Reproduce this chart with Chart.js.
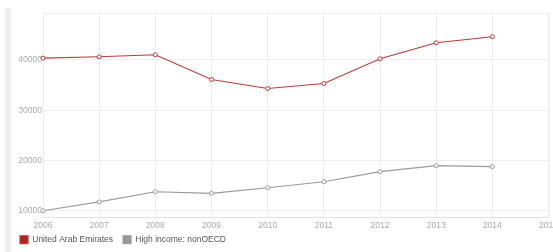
<!DOCTYPE html>
<html>
<head>
<meta charset="utf-8">
<script src="https://cdn.jsdelivr.net/npm/chart.js@4"></script>
<style>
  html, body { margin: 0; padding: 0; background: #fff; overflow: hidden; }
  body { width: 553px; height: 252px; position: relative; }
  #strip { position: absolute; left: 5px; top: 8px; width: 6px; height: 244px; background: #efefef; }
  #wrap { position: absolute; left: 0; top: 0; width: 562px; height: 252px; }
</style>
</head>
<body>
<div id="strip"></div>
<div id="wrap"><canvas id="chart"></canvas></div>
<script>
// Years on the x axis
const years = ['2006', '2007', '2008', '2009', '2010', '2011', '2012', '2013', '2014', '2015'];

// Series values
const uaeValues = [40350, 40600, 41000, 36100, 34300, 35300, 40200, 43400, 44600, null];
const nonOecdValues = [10050, 11800, 13800, 13500, 14600, 15800, 17800, 19000, 18800, null];

// Y tick values
const yTicks = [10000, 20000, 30000, 40000];

const tickFont = { family: 'Liberation Sans, Arial, sans-serif', size: 8.5 };

new Chart(document.getElementById('chart'), {
  type: 'line',
  data: {
    labels: years,
    datasets: [
      {
        label: 'United Arab Emirates',
        data: uaeValues,
        borderColor: '#c0393b',
        backgroundColor: '#b22222',
        pointBackgroundColor: '#ffffff',
        pointBorderColor: '#c0393b',
        pointRadius: 2,
        pointBorderWidth: 1,
        borderWidth: 1.1,
        tension: 0,
      },
      {
        label: 'High income: nonOECD',
        data: nonOecdValues,
        borderColor: '#9a9a9a',
        backgroundColor: '#999999',
        pointBackgroundColor: '#ffffff',
        pointBorderColor: '#9a9a9a',
        pointRadius: 2,
        pointBorderWidth: 1,
        borderWidth: 1.1,
        tension: 0,
      },
    ],
  },
  options: {
    responsive: true,
    maintainAspectRatio: false,
    animation: false,
    layout: { padding: { left: 10, top: 13, right: 0, bottom: 21 } },
    plugins: {
      legend: {
        display: true,
        position: 'bottom',
        align: 'start',
        labels: {
          boxWidth: 8,
          boxHeight: 8,
          padding: 10,
          color: '#555',
          font: { family: 'Liberation Sans, Arial, sans-serif', size: 8.5 },
        },
      },
      tooltip: { enabled: false },
    },
    scales: {
      x: {
        grid: { color: '#eeeeee', drawTicks: false },
        border: { color: '#e4e4e4' },
        ticks: { color: '#aaaaaa', font: tickFont, padding: 4, maxRotation: 0, autoSkip: false },
        afterFit: (scale) => { scale.height = 14; },
      },
      y: {
        min: 8800,
        max: 49300,
        grid: { color: '#eeeeee', drawTicks: false },
        border: { color: '#eeeeee' },
        ticks: { color: '#aaaaaa', font: tickFont, padding: 1, callback: (v) => String(v) },
        afterBuildTicks: (scale) => {
          scale.ticks = yTicks.map((v) => ({ value: v }));
        },
        afterFit: (scale) => { scale.width = 33; },
      },
    },
  },
  plugins: [{
    id: 'frame',
    beforeInit(chart) {
      // legend takes no room in the layout; it is placed below the axis afterwards
      const legend = chart.legend;
      if (legend) {
        const fit = legend.fit.bind(legend);
        legend.fit = () => { fit(); legend.height = 0; };
      }
    },
    afterLayout(chart) {
      const legend = chart.legend;
      if (legend) {
        legend.top = 225.5;
        legend.bottom = 252;
        legend.height = 26.5;
      }
    },
    afterDraw(chart) {
      const { ctx, chartArea } = chart;
      ctx.save();
      ctx.strokeStyle = '#eeeeee';
      ctx.lineWidth = 1;
      ctx.beginPath();
      ctx.moveTo(chartArea.left, chartArea.top + 0.5);
      ctx.lineTo(chartArea.right + 0.5, chartArea.top + 0.5);
      ctx.lineTo(chartArea.right + 0.5, chartArea.bottom);
      ctx.stroke();
      ctx.restore();
    },
  }],
});
</script>
</body>
</html>
